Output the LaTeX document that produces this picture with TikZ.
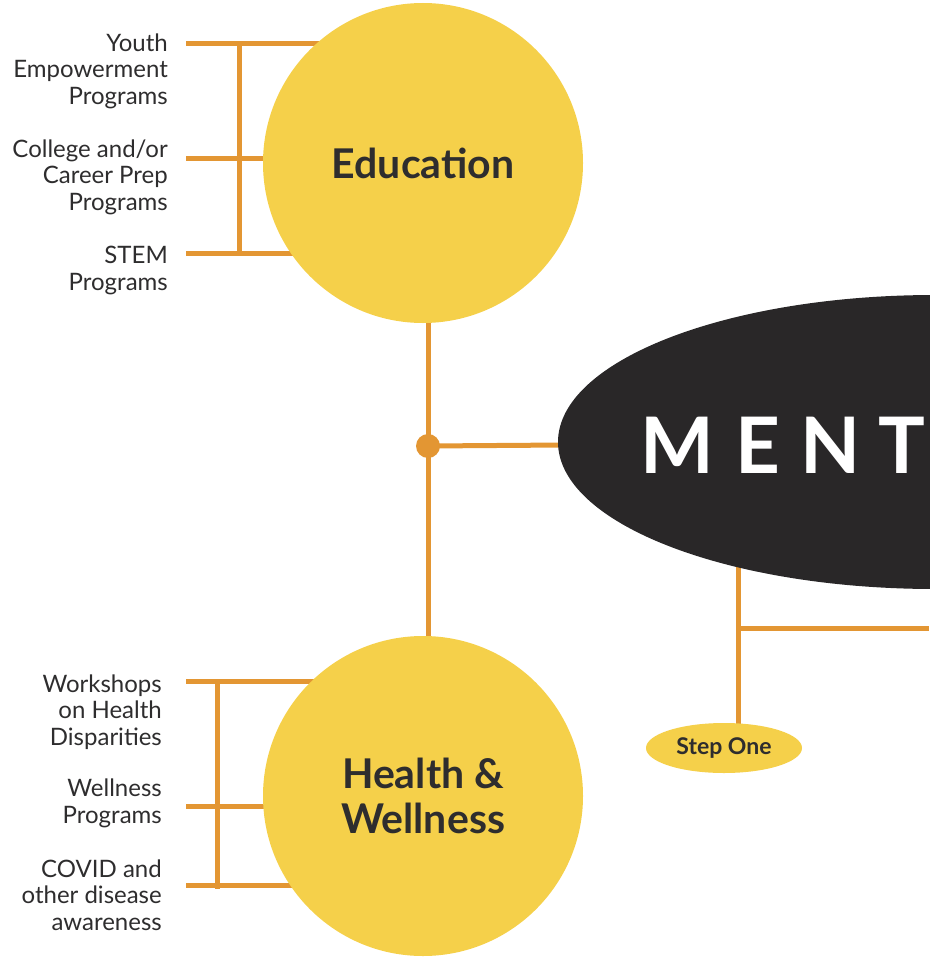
\documentclass[tikz,border=0pt]{standalone}
\usepackage{fontspec}
\setmainfont{Lato}
\usetikzlibrary{shapes.geometric}
\definecolor{hubyellow}{HTML}{F5D04A}
\definecolor{huborange}{HTML}{E39633}
\definecolor{hubblack}{HTML}{292728}
\definecolor{hubtext}{HTML}{2E2D2E}
\tikzset{
  branch/.style={huborange, line width=5pt},
  topic/.style={circle, fill=hubyellow, minimum size=320pt, inner sep=0pt, text=hubtext, font=\fontsize{41}{45}\selectfont\bfseries, align=center},
  item/.style={anchor=base east, inner sep=0pt, text=hubtext, font=\fontsize{24}{26.5}\selectfont, align=right}
}
\begin{document}
\begin{tikzpicture}[x=1pt,y=-1pt]
\useasboundingbox (0,0) rectangle (929,958);
\coordinate (eduC) at (423,163);
\coordinate (hwC) at (423,796);
\coordinate (hub) at (428,446);
\coordinate (stepTop) at (738,560);
\coordinate (stepJoin) at (738,628);
\coordinate (rightEnd) at (929,628);

% education branches
\coordinate (eduA) at (186,44);
\coordinate (eduB) at (186,158);
\coordinate (eduD) at (186,253);
\draw [branch] (eduA) -- (eduA -| eduC);
\draw [branch] (eduB) -- (eduB -| eduC);
\draw [branch] (eduD) -- (eduD -| eduC);
\draw [branch] (239,44) -- (239,253);

% health branches
\coordinate (hwA) at (186,681);
\coordinate (hwB) at (186,806);
\coordinate (hwD) at (186,885);
\draw [branch] (hwA) -- (hwA -| hwC);
\draw [branch] (hwB) -- (hwB -| hwC);
\draw [branch] (hwD) -- (hwD -| hwC);
\draw [branch] (217,681) -- (217,889);

% spine
\draw [branch] (hub |- eduC) -- (hub |- hwC);
\draw [branch] (hub) -- (700,444);
\draw [branch] (stepTop) -- (738,748);
\draw [branch] (stepJoin) -- (rightEnd);

\node [topic] (edu) at (eduC) {Education};
\node [topic] (hw) at (hwC) {Health \&\\Wellness};
\fill [huborange] (hub) circle (12);
\node [ellipse, fill=hubblack, minimum width=754pt, minimum height=294pt, inner sep=0pt] (ment) at (935,442) {};
\node [anchor=base west, inner sep=0pt, text=white, font=\fontsize{78}{80}\selectfont\bfseries] (mentText) at (640,473) {M\kern22pt E\kern20pt N\kern18pt T};
\node [ellipse, fill=hubyellow, minimum width=156pt, minimum height=50pt, inner sep=0pt, text=hubtext, font=\fontsize{23}{25}\selectfont\bfseries] (step) at (724,748) {Step One};

\node [item] (youth) at (168,104) {Youth\\Empowerment\\Programs};
\node [item] (college) at (168,210) {College and/or\\Career Prep\\Programs};
\node [item] (stem) at (168,290) {STEM\\Programs};
\node [item] (workshops) at (162,745) {Workshops\\on Health\\Disparities};
\node [item] (wellness) at (162,823) {Wellness\\Programs};
\node [item] (covid) at (162,930) {COVID and\\other disease\\awareness};
\end{tikzpicture}
\end{document}
